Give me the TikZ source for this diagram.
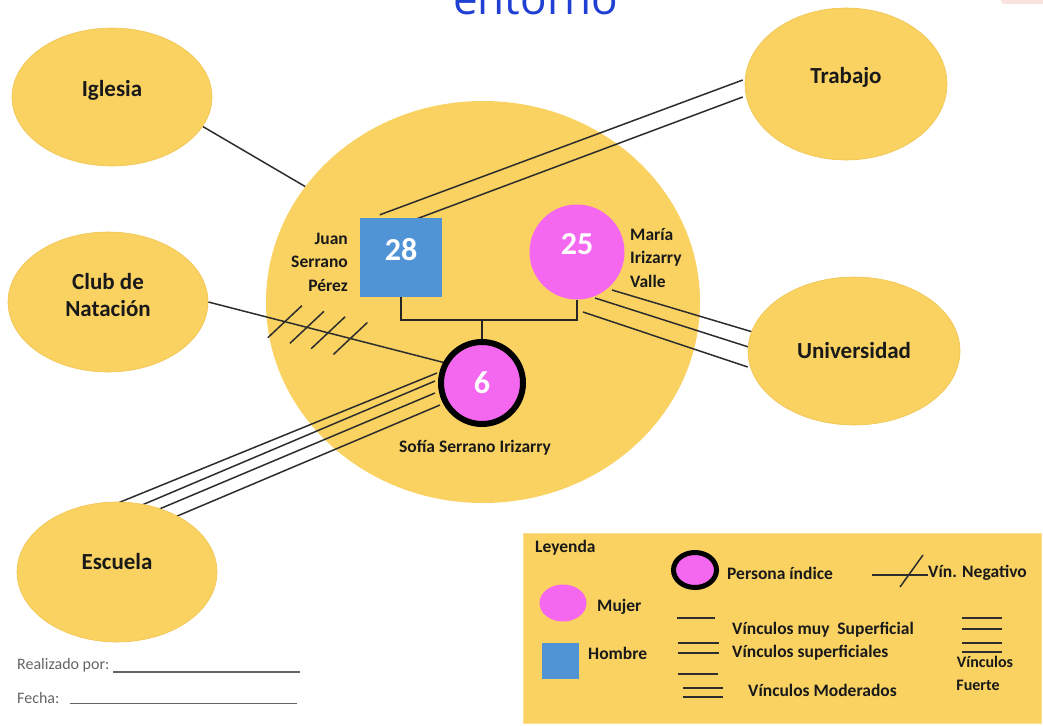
\documentclass[tikz,border=0pt]{standalone}
\usepackage{fontspec}
\setmainfont{Carlito}
\newfontfamily\titlefont{Open Sans}
\usetikzlibrary{shapes.geometric,calc}
\pgfdeclarelayer{back}
\pgfsetlayers{back,main}
\definecolor{yel}{RGB}{249,210,98}
\definecolor{yelb}{RGB}{240,196,80}
\definecolor{pinkf}{RGB}{244,104,240}
\definecolor{bluef}{RGB}{80,148,214}
\definecolor{titleblue}{RGB}{32,64,212}
\definecolor{linec}{RGB}{45,45,45}
\definecolor{grayt}{RGB}{100,100,100}
\definecolor{corner}{RGB}{250,226,222}
\tikzset{
  place/.style={ellipse, fill=yel, draw=yelb, line width=0.6pt, inner sep=0pt},
  placetext/.style={font=\bfseries\fontsize{23}{27}\selectfont, text=black!90, align=center},
  tie/.style={draw=linec, line width=1.5pt},
  famline/.style={draw=black!85, line width=1.6pt},
  pers/.style={font=\bfseries\fontsize{17.5}{23.5}\selectfont, text=black!90, inner sep=0pt},
  age/.style={text=white, font=\bfseries\fontsize{32}{34}\selectfont},
  woman/.style={circle, fill=pinkf, inner sep=0pt},
  man/.style={rectangle, fill=bluef, inner sep=0pt},
  legtext/.style={font=\bfseries\fontsize{17.5}{20}\selectfont, text=black!90, anchor=west, inner sep=0pt},
  legline/.style={draw=linec, line width=1.5pt},
  formtext/.style={font=\fontsize{16}{18}\selectfont, text=grayt, anchor=west, inner sep=0pt},
}
\begin{document}
\begin{tikzpicture}[x=1pt,y=-1pt]
\useasboundingbox (0,0) rectangle (1043,725);
\clip (0,0) rectangle (1043,725);

% title fragment and corner fragment
\node[anchor=base west, inner sep=0pt, text=titleblue, font=\titlefont\fontsize{44}{46}\selectfont] (title) at (453,15) {entorno};
\fill[corner, rounded corners=3pt] (1001,-10) rectangle (1050,4);

% central ecomap circle
\begin{pgfonlayer}{back}
\node[ellipse, fill=yel, inner sep=0pt, minimum width=434pt, minimum height=402pt] (eco) at (483,302) {};
\end{pgfonlayer}

% outer systems
\node[place, minimum width=200pt, minimum height=138pt, label={[placetext, yshift=7pt]center:Iglesia}] (igl) at (112,97) {};
\node[place, minimum width=200pt, minimum height=140pt, label={[placetext, yshift=7pt]center:Club de\\Natación}] (club) at (108,302) {};
\node[place, minimum width=202pt, minimum height=152pt, label={[placetext, yshift=7pt]center:Trabajo}] (trab) at (846,84) {};
\node[place, minimum width=212pt, minimum height=148pt, label={[placetext]center:Universidad}] (univ) at (854,351) {};
\node[place, minimum width=200pt, minimum height=140pt, label={[placetext, yshift=10pt]center:Escuela}] (esc) at (117,572) {};

% family
\node[man, minimum width=82pt, minimum height=79pt, label={[age, yshift=8pt]center:28}] (sq) at (401,257.5) {};
\node[woman, minimum size=95pt, label={[age, yshift=8pt]center:25}] (m25) at (577,252) {};
\node[woman, draw=black, line width=6pt, minimum size=82pt, label={[age]center:6}] (sofia) at (482,383) {};

\node[pers, anchor=east, align=right] (juan) at (348,262) {Juan\\Serrano\\Pérez};
\node[pers, anchor=west, align=left] (maria) at (630,258) {María\\Irizarry\\Valle};
\node[pers] (sofiatxt) at (475,448) {Sofía Serrano Irizarry};

\begin{pgfonlayer}{back}
% family connector
\draw[famline] (sq.south) -- ++(0,23) coordinate (fl) -| (m25.south);
\draw[famline] (sofia.north) -- (sofia.north |- fl);

% Iglesia: very superficial
\draw[tie] (igl.-18) -- (eco.147.5);

% Club de Natacion: negative
\draw[tie] (club.east) -- (sofia.152);
\foreach \t [count=\i] in {0.326,0.42,0.51,0.605}{
  \path (club.east) -- (sofia.152) coordinate[pos=\t] (h\i);
  \draw[tie] ($(h\i)+(-17,16)$) -- ($(h\i)+(17,-16)$);
}

% Trabajo: superficial (2 lines)
\draw[tie] ($(sq.north west)+(20,-3)$) -- ($(trab.west)+(-2,-4)$);
\draw[tie] ($(sq.north west)+(57,1)$) -- ($(trab.west)+(-2,13)$);

% Universidad: moderate (3 lines)
\draw[tie] ($(m25.center)+(35,38)$) -- ($(univ.west)+(5,-19)$);
\draw[tie] ($(m25.center)+(18,46)$) -- ($(univ.west)+(4,-3)$);
\draw[tie] ($(m25.center)+(6,60)$) -- ($(univ.west)+(0,16)$);

% Escuela: strong (4 lines)
\draw[tie] ($(sofia.center)+(-45,-10)$) -- ($(esc.center)+(-4,-67)$);
\draw[tie] ($(sofia.center)+(-47,-2)$) -- ($(esc.center)+(25,-67)$);
\draw[tie] ($(sofia.center)+(-47,10)$) -- ($(esc.center)+(40,-62)$);
\draw[tie] ($(sofia.center)+(-42,22)$) -- ($(esc.center)+(58,-55)$);
\end{pgfonlayer}

% legend
\node[rectangle, fill=yel, draw=yel!70!white, line width=1pt, minimum width=518pt, minimum height=190pt, anchor=north west, inner sep=0pt] (leg) at (523,533) {};
\node[legtext] (legtitle) at (535,548) {Leyenda};
\node[ellipse, fill=pinkf, draw=black, line width=5pt, minimum width=43pt, minimum height=35pt, inner sep=0pt] (legidx) at (695,570) {};
\node[legtext] (legidxt) at (727,573) {Persona índice};
\draw[legline] (872,575) -- (928,575);
\draw[legline] (900,587) -- (923,555);
\node[legtext] (legneg) at (928,573) {Vín. Negativo};
\node[ellipse, fill=pinkf, minimum width=47pt, minimum height=37pt, inner sep=0pt] (legw) at (563,603) {};
\node[legtext] (legwt) at (597,607) {Mujer};
\node[man, minimum width=37pt, minimum height=36pt] (legm) at (560.5,661) {};
\node[legtext] (legmt) at (588,653) {Hombre};
\draw[legline] (677,618) -- (715,618);
\node[legtext] (l1) at (732,630) {Vínculos muy\ \ Superficial};
\draw[legline] (678,643) -- (719,643);
\draw[legline] (678,653) -- (719,653);
\node[legtext] (l2) at (732,653) {Vínculos superficiales};
\draw[legline] (678,674) -- (718,674);
\draw[legline] (683,688) -- (723,688);
\draw[legline] (683,697) -- (723,697);
\node[legtext] (l3) at (748,690) {Vínculos Moderados};
\draw[legline] (962,618) -- (1002,618);
\draw[legline] (962,629) -- (1002,629);
\draw[legline] (962,643) -- (1002,643);
\draw[legline] (962,652) -- (1002,652);
\node[legtext, anchor=center, font=\bfseries\fontsize{16}{18}\selectfont] (l4a) at (985,662) {Vínculos};
\node[legtext, anchor=center, font=\bfseries\fontsize{16}{18}\selectfont] (l4b) at (978,685) {Fuerte};

% form fields
\node[formtext] (realizado) at (17,665) {Realizado por:};
\draw[grayt, line width=1.6pt] (113,672) -- (300,672);
\node[formtext] (fecha) at (17,698) {Fecha:};
\draw[grayt, line width=1pt] (70,703) -- (297,703);
\end{tikzpicture}
\end{document}
